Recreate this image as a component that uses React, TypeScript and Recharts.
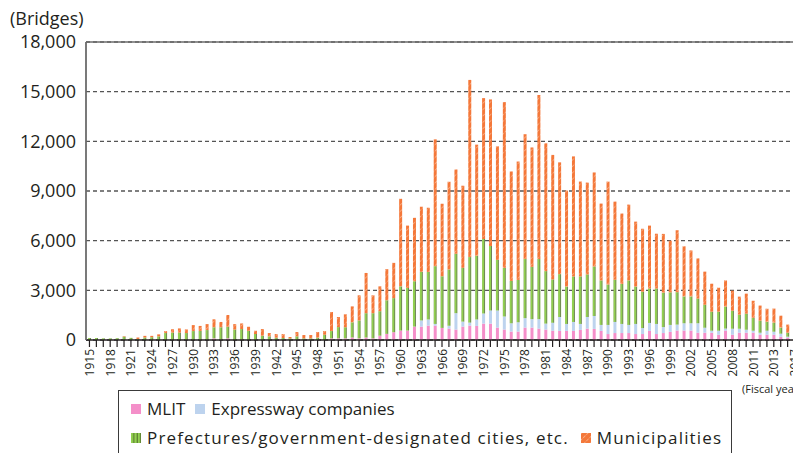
import { Bar, BarChart, CartesianGrid, ReferenceLine, XAxis, YAxis } from "recharts"

// fiscal years of construction, 1915-2017
const YEARS = [
  1915, 1916, 1917, 1918, 1919, 1920, 1921, 1922, 1923, 1924,
  1925, 1926, 1927, 1928, 1929, 1930, 1931, 1932, 1933, 1934,
  1935, 1936, 1937, 1938, 1939, 1940, 1941, 1942, 1943, 1944,
  1945, 1946, 1947, 1948, 1949, 1950, 1951, 1952, 1953, 1954,
  1955, 1956, 1957, 1958, 1959, 1960, 1961, 1962, 1963, 1964,
  1965, 1966, 1967, 1968, 1969, 1970, 1971, 1972, 1973, 1974,
  1975, 1976, 1977, 1978, 1979, 1980, 1981, 1982, 1983, 1984,
  1985, 1986, 1987, 1988, 1989, 1990, 1991, 1992, 1993, 1994,
  1995, 1996, 1997, 1998, 1999, 2000, 2001, 2002, 2003, 2004,
  2005, 2006, 2007, 2008, 2009, 2010, 2011, 2012, 2013, 2014,
  2015, 2016, 2017,
]

const MLIT = [
  0, 0, 0, 0, 0, 0, 0, 0, 0, 0,
  0, 0, 0, 0, 0, 0, 0, 0, 100, 0,
  100, 0, 0, 0, 0, 0, 0, 0, 0, 0,
  0, 0, 0, 0, 0, 100, 100, 100, 150, 100,
  150, 100, 260, 370, 470, 570, 570, 810, 810, 870,
  870, 730, 690, 630, 810, 870, 850, 990, 990, 750,
  630, 510, 510, 750, 750, 690, 630, 560, 550, 550,
  550, 610, 690, 670, 550, 360, 420, 420, 420, 360,
  360, 550, 360, 420, 490, 570, 570, 570, 440, 440,
  440, 320, 570, 320, 440, 440, 440, 320, 320, 320,
  200, 140, 100,
]

const EXPRESSWAY = [
  0, 0, 0, 0, 0, 0, 0, 0, 0, 0,
  0, 0, 0, 0, 0, 0, 0, 0, 0, 0,
  0, 0, 0, 0, 0, 0, 0, 0, 0, 0,
  0, 0, 0, 0, 0, 0, 0, 0, 0, 0,
  0, 0, 0, 0, 0, 0, 0, 0, 370, 370,
  100, 0, 170, 990, 300, 180, 390, 610, 790, 1030,
  790, 500, 560, 570, 510, 570, 360, 480, 840, 420,
  540, 360, 700, 780, 360, 550, 670, 550, 490, 610,
  360, 480, 610, 360, 420, 360, 440, 440, 570, 300,
  120, 240, 120, 360, 240, 180, 120, 120, 240, 180,
  180, 60, 50,
]

const PREFECTURES = [
  120, 120, 100, 100, 110, 200, 130, 60, 150, 170,
  220, 420, 450, 450, 420, 540, 550, 600, 670, 770,
  700, 630, 660, 550, 360, 260, 220, 140, 120, 100,
  220, 100, 100, 140, 320, 440, 680, 670, 920, 1080,
  1470, 1520, 1480, 2030, 2060, 2670, 2570, 2740, 2940, 2870,
  3490, 3120, 3400, 3590, 3250, 3960, 3850, 4500, 3900, 3060,
  2940, 2560, 2560, 3570, 3160, 3630, 3170, 2620, 2590, 2260,
  2750, 2870, 2570, 2990, 2690, 2440, 2550, 2420, 2690, 2260,
  2200, 2080, 2140, 2080, 1970, 1960, 1620, 1620, 1490, 1390,
  1150, 1150, 1330, 1090, 850, 970, 780, 730, 540, 550,
  370, 240, 200,
]

const MUNICIPALITIES = [
  0, 0, 0, 0, 0, 30, 0, 90, 100, 80,
  120, 120, 200, 250, 220, 360, 300, 360, 480, 320,
  710, 330, 340, 250, 200, 400, 200, 220, 240, 80,
  260, 200, 200, 340, 220, 1150, 610, 780, 960, 1520,
  2430, 1080, 1500, 1880, 2130, 5290, 3770, 3830, 3930, 3880,
  7660, 4380, 5300, 5090, 4960, 10700, 6710, 8510, 8850, 6860,
  10010, 6610, 7150, 7540, 7210, 9910, 7720, 7520, 6750, 5800,
  7250, 5730, 5550, 5680, 4640, 6220, 4720, 4250, 4580, 3920,
  3800, 3800, 3310, 3550, 3120, 3740, 3030, 2780, 2430, 2000,
  1690, 1450, 1580, 1210, 1090, 1210, 1030, 910, 790, 850,
  720, 490, 350,
]

// labels printed under every third year (as in the source figure)
const TICK_LABELS = [
  "1915", "1918", "1921", "1924", "1927", "1930", "1933", "1936", "1939",
  "1942", "1945", "1948", "1951", "1954", "1957", "1960", "1963", "1966",
  "1969", "1972", "1975", "1978", "1981", "1984", "1987", "1990", "1993",
  "1996", "1999", "2002", "2005", "2008", "2011", "2013", "2017",
]

const Y_TICKS = [0, 3000, 6000, 9000, 12000, 15000, 18000]

const FONT = "'Open Sans', 'Noto Sans', sans-serif"
const INK = "#231f20"
const PINK = "#f48fc9"
const BLUE = "#bdd3ee"
const GREEN = "#92d050"
const ORANGE = "#f4783a"

const data = YEARS.map((year, i) => ({
  year: String(year),
  mlit: MLIT[i],
  expressway: EXPRESSWAY[i],
  prefectures: PREFECTURES[i],
  municipalities: MUNICIPALITIES[i],
}))

function YearTick(props: any) {
  const { x, y, index } = props
  const label = index % 3 === 0 ? TICK_LABELS[index / 3] : null
  return (
    <g>
      <line x1={x} x2={x} y1={y} y2={y + 7} stroke={INK} strokeWidth={1.2} />
      {label && (
        <text
          x={x}
          y={y + 9}
          transform={`rotate(-90 ${x} ${y + 9})`}
          textAnchor="end"
          dominantBaseline="central"
          fill={INK}
          fontSize={12}
          fontFamily={FONT}
        >
          {label}
        </text>
      )}
    </g>
  )
}

// shared svg patterns (hatching for municipalities, stripes for prefectures)
function Patterns() {
  return (
    <svg width={0} height={0} style={{ position: "absolute" }}>
      <defs>
        <pattern id="hatch" patternUnits="userSpaceOnUse" width={4.5} height={4.5} patternTransform="rotate(45)">
          <rect width={4.5} height={4.5} fill={ORANGE} />
          <line x1={0} y1={0} x2={0} y2={4.5} stroke="#fcd9c4" strokeWidth={0.9} strokeDasharray="2 1.2" />
        </pattern>
        <pattern id="stripe" patternUnits="objectBoundingBox" patternContentUnits="objectBoundingBox" width={1} height={1}>
          <rect width={1} height={1} fill={GREEN} />
          <rect x={0.68} width={0.22} height={1} fill="#5b5b5b" />
        </pattern>
        <pattern id="stripe3" patternUnits="userSpaceOnUse" width={3.4} height={10}>
          <rect width={3.4} height={10} fill={GREEN} />
          <rect x={2.3} width={1} height={10} fill="#4f6b2a" />
        </pattern>
      </defs>
    </svg>
  )
}

function Swatch({ fill }: { fill: string }) {
  return (
    <svg width={10} height={10} style={{ marginRight: 6, flex: "none" }}>
      <rect width={10} height={10} fill={fill} />
    </svg>
  )
}

function LegendBox() {
  const row = { display: "flex", alignItems: "center", height: 29 }
  return (
    <div
      style={{
        position: "absolute",
        left: 118,
        top: 390,
        width: 614,
        height: 80,
        border: `1.5px solid #3a3a3a`,
        boxSizing: "border-box",
        padding: "3px 0 0 12px",
        fontSize: 17,
        color: INK,
        fontFamily: FONT,
      }}
    >
      <div style={row}>
        <Swatch fill={PINK} />
        <span style={{ marginRight: 10 }}>MLIT</span>
        <Swatch fill={BLUE} />
        <span>Expressway companies</span>
      </div>
      <div style={{ ...row, letterSpacing: 1.15 }}>
        <Swatch fill="url(#stripe3)" />
        <span style={{ marginRight: 12 }}>Prefectures/government-designated cities, etc.</span>
        <Swatch fill="url(#hatch)" />
        <span>Municipalities</span>
      </div>
    </div>
  )
}

export default function App() {
  return (
    <div
      style={{
        position: "absolute",
        left: 0,
        top: 0,
        width: 793,
        height: 453,
        overflow: "hidden",
        background: "#fff",
        fontFamily: FONT,
      }}
    >
      <Patterns />
      <div style={{ position: "absolute", left: 10, top: 6, fontSize: 18, lineHeight: "24px", color: INK }}>(Bridges)</div>
      <div style={{ position: "absolute", left: 742, top: 381, fontSize: 11, lineHeight: "16px", color: INK, whiteSpace: "nowrap" }}>
        (Fiscal year)
      </div>
      <div style={{ position: "absolute", left: 0, top: 0 }}>
        <BarChart width={798} height={453} data={data} margin={{ top: 42, right: 0, bottom: 0, left: 0 }} barCategoryGap="30%">
          <CartesianGrid vertical={false} stroke="#555" strokeDasharray="4 3" strokeWidth={1.3} />
          <ReferenceLine y={18000} stroke="#6b6b6b" strokeWidth={1.5} />
          <XAxis
            dataKey="year"
            interval={0}
            height={113}
            tickSize={0}
            tickMargin={0}
            tickLine={false}
            axisLine={{ stroke: INK, strokeWidth: 1.5 }}
            tick={<YearTick />}
          />
          <YAxis
            width={86}
            domain={[0, 18000]}
            ticks={Y_TICKS}
            tickLine={false}
            tickMargin={4}
            axisLine={{ stroke: "#6b6b6b", strokeWidth: 1.8 }}
            tick={{ fill: INK, fontSize: 18, fontFamily: FONT }}
            tickFormatter={(v: number) => v.toLocaleString("en-US")}
          />
          <Bar dataKey="mlit" stackId="a" fill={PINK} isAnimationActive={false} />
          <Bar dataKey="expressway" stackId="a" fill={BLUE} isAnimationActive={false} />
          <Bar dataKey="prefectures" stackId="a" fill="url(#stripe)" isAnimationActive={false} />
          <Bar dataKey="municipalities" stackId="a" fill="url(#hatch)" isAnimationActive={false} />
        </BarChart>
      </div>
      <LegendBox />
    </div>
  )
}
